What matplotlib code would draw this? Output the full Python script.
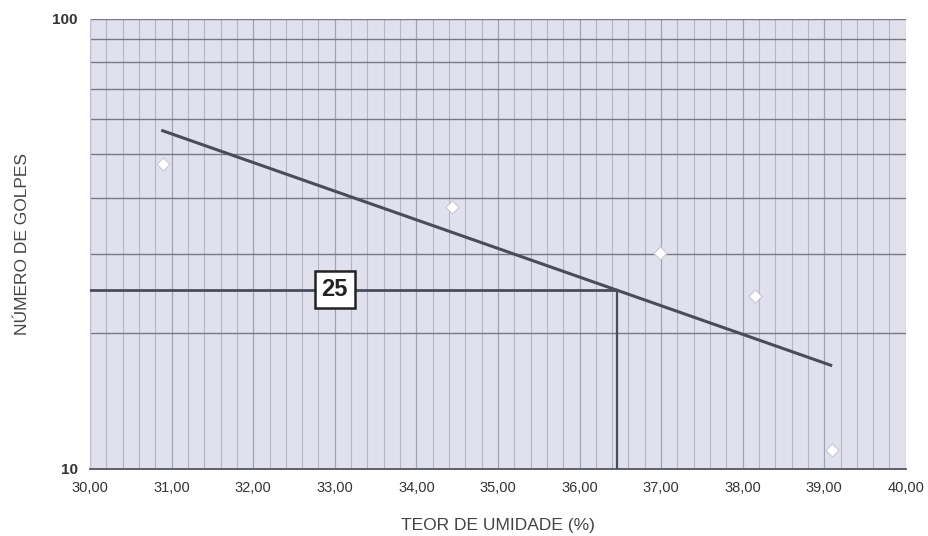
import matplotlib

matplotlib.use("Agg")
import matplotlib.pyplot as plt
import numpy as np
from matplotlib.ticker import FixedLocator, FuncFormatter, NullFormatter

# measured points (moisture %, blow count)
teor = [30.89, 34.44, 36.99, 38.15, 39.10]
golpes = [47.6, 38.2, 30.2, 24.2, 11.0]

# fitted trend line ends
trend_x = [30.89, 39.08]
trend_y = [56.4, 17.0]

# liquid limit read at 25 blows
ll_golpes = 25
ll_teor = 36.46

x_ticks = [30, 31, 32, 33, 34, 35, 36, 37, 38, 39, 40]

plt.rcParams["font.family"] = ["Liberation Sans", "DejaVu Sans"]

fig = plt.figure(figsize=(9.29, 5.36), dpi=100)
ax = fig.add_axes([0.097, 0.125, 0.878, 0.840])
ax.set_facecolor("#e0e1ec")

ax.set_yscale("log")
ax.set_xlim(30, 40)
ax.set_ylim(10, 100)

# graph-paper style grid
ax.xaxis.set_major_locator(FixedLocator(x_ticks))
ax.xaxis.set_minor_locator(FixedLocator(np.arange(30, 40.01, 0.2)))
ax.yaxis.set_major_locator(FixedLocator([10, 100]))
ax.yaxis.set_minor_locator(FixedLocator(list(range(20, 100, 10))))
ax.yaxis.set_minor_formatter(NullFormatter())
ax.xaxis.set_major_formatter(FuncFormatter(lambda v, p: f"{v:.2f}".replace(".", ",")))
ax.yaxis.set_major_formatter(FuncFormatter(lambda v, p: f"{v:g}"))

ax.grid(True, which="major", axis="x", color="#a2a2b6", lw=0.9)
ax.grid(True, which="minor", axis="x", color="#b4b4c6", lw=0.8)
ax.grid(True, which="minor", axis="y", color="#787888", lw=1.0)
ax.grid(True, which="major", axis="y", color="#787888", lw=1.0)
ax.set_axisbelow(True)

ax.tick_params(which="both", length=0, pad=9, labelsize=10.5, colors="#333333")
for lbl in ax.get_yticklabels():
    lbl.set_fontweight("bold")
    lbl.set_fontsize(11)
for side in ["top", "right"]:
    ax.spines[side].set_visible(False)
ax.spines["left"].set_color("#c0c0d0")
ax.spines["bottom"].set_color("#555560")
ax.spines["bottom"].set_linewidth(1.3)

# trend line
ax.plot(trend_x, trend_y, color="#4a4c5c", lw=2.2, zorder=3)

# 25 blows reading
ax.plot([30, ll_teor], [ll_golpes, ll_golpes], color="#4a4c5c", lw=2.0, zorder=3)
ax.plot([ll_teor, ll_teor], [10, ll_golpes], color="#4a4c5c", lw=1.6, zorder=3)
ax.text(33.0, ll_golpes, str(ll_golpes), ha="center", va="center", fontsize=17,
        fontweight="bold", color="#222222", zorder=5,
        bbox=dict(boxstyle="square,pad=0.3", fc="white", ec="#222222", lw=1.8))

# measured points
ax.scatter(teor, golpes, marker="D", s=45, facecolor="white", edgecolor="#c8c8d0",
           linewidths=0.8, zorder=4)

ax.set_xlabel("TEOR DE UMIDADE (%)", fontsize=12.5, color="#444444", labelpad=16)
ax.set_ylabel("NÚMERO DE GOLPES", fontsize=12.5, color="#444444", labelpad=16)

fig.savefig("out.png", dpi=100, facecolor="white")
